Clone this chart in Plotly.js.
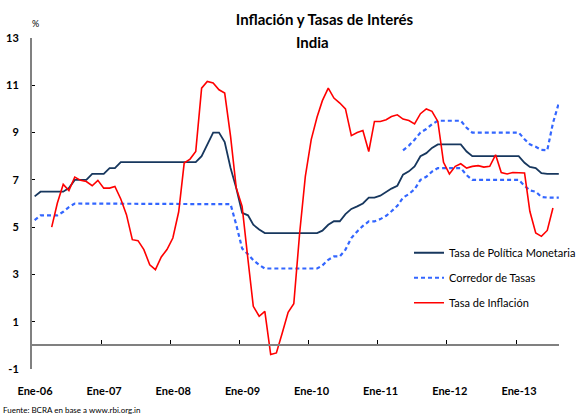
<!DOCTYPE html>
<html>
<head>
<meta charset="utf-8">
<script src="https://cdn.plot.ly/plotly-3.0.1.min.js"></script>
<style>
  html, body { margin: 0; padding: 0; background: #fff; }
  #chart { width: 581px; height: 414px; }
</style>
</head>
<body>
<div id="chart"></div>
<script>
// Monthly series, Jan 2006 - Aug 2013
const politica = [
  6.3, 6.5, 6.5, 6.5, 6.5, 6.5, 6.65, 7.0, 7.0, 7.0,
  7.25, 7.25, 7.25, 7.5, 7.5, 7.75, 7.75, 7.75, 7.75, 7.75,
  7.75, 7.75, 7.75, 7.75, 7.75, 7.75, 7.75, 7.75, 7.75, 8.0,
  8.5, 9.0, 9.0, 8.6, 7.5, 6.65, 5.6, 5.5, 5.1, 4.9,
  4.75, 4.75, 4.75, 4.75, 4.75, 4.75, 4.75, 4.75, 4.75, 4.75,
  4.85, 5.1, 5.25, 5.25, 5.55, 5.77, 5.88, 6.0, 6.25, 6.25,
  6.33, 6.5, 6.63, 6.75, 7.22, 7.36, 7.57, 8.0, 8.13, 8.35,
  8.5, 8.5, 8.5, 8.5, 8.5, 8.2, 8.0, 8.0, 8.0, 8.0,
  8.0, 8.0, 8.0, 8.0, 8.0, 7.72, 7.55, 7.5, 7.28, 7.25,
  7.25, 7.25
];
const corredorInf = [
  5.3, 5.5, 5.5, 5.5, 5.5, 5.65, 5.85, 6.0, 6.0, 6.0,
  6.0, 6.0, 6.0, 6.0, 6.0, 6.0, 6.0, 6.0, 6.0, 6.0,
  6.0, 6.0, 6.0, 6.0, 6.0, 6.0, 6.0, 6.0, 6.0, 6.0,
  6.0, 6.0, 6.0, 6.0, 5.97, 5.1, 4.1, 3.85, 3.6, 3.4,
  3.25, 3.25, 3.25, 3.25, 3.25, 3.25, 3.25, 3.25, 3.25, 3.25,
  3.38, 3.62, 3.76, 3.76, 4.05, 4.54, 4.82, 5.05, 5.24, 5.24,
  5.34, 5.48, 5.67, 5.9, 6.25, 6.4, 6.6, 7.0, 7.13, 7.35,
  7.5, 7.5, 7.5, 7.5, 7.5, 7.2, 7.0, 7.0, 7.0, 7.0,
  7.0, 7.0, 7.0, 7.0, 7.0, 6.75, 6.55, 6.5, 6.28, 6.25,
  6.25, 6.25
];
// Upper band starts May 2011 (month index 64)
const inicioSup = 64;
const corredorSup = [
  8.25, 8.45, 8.7, 9.0, 9.15, 9.35,
  9.5, 9.5, 9.5, 9.5, 9.5, 9.2, 9.0, 9.0, 9.0, 9.0,
  9.0, 9.0, 9.0, 9.0, 9.0, 8.72, 8.5, 8.4, 8.27, 8.25,
  9.4, 10.25
];
// Inflation starts Apr 2006 (month index 3), ends Jul 2013
const inicioInf = 3;
const inflacion = [
  5.0, 6.02, 6.81, 6.55, 7.12, 6.98, 6.93,
  6.75, 6.98, 6.65, 6.65, 6.72, 6.19, 5.53, 4.47, 4.43, 4.05,
  3.41, 3.2, 3.74, 4.05, 4.54, 5.65, 7.71, 7.88, 8.2, 10.88,
  11.16, 11.1, 10.81, 10.67, 8.84, 6.66, 5.88, 3.62, 1.65, 1.23,
  1.44, -0.39, -0.32, 0.52, 1.4, 1.76, 4.75, 7.15, 8.7, 9.66,
  10.35, 10.88, 10.46, 10.25, 10.0, 8.87, 9.0, 9.09, 8.2, 9.47,
  9.47, 9.54, 9.68, 9.75, 9.57, 9.51, 9.37, 9.8, 10.0, 9.9,
  9.47, 7.74, 7.25, 7.57, 7.68, 7.5, 7.57, 7.6, 7.54, 7.57,
  8.06, 7.31, 7.25, 7.31, 7.31, 7.29, 5.67, 4.75, 4.61, 4.86,
  5.81
];
const tickVals = ["2006-01-01","2007-01-01","2008-01-01","2009-01-01","2010-01-01","2011-01-01","2012-01-01","2013-01-01"];
const tickText = ["Ene-06","Ene-07","Ene-08","Ene-09","Ene-10","Ene-11","Ene-12","Ene-13"];
const yTicks = [-1, 1, 3, 5, 7, 9, 11, 13];

const meses = [];
for (let y = 2006; y <= 2013; y++) {
  for (let m = 1; m <= 12; m++) {
    if (y === 2013 && m > 8) break;
    meses.push(y + "-" + String(m).padStart(2, "0") + "-15");
  }
}

const F = "Lato, 'Open Sans', sans-serif";
const dotStyle = { color: "#3366FF", width: 2.2, dash: "4px,3px" };

const traces = [
  { x: meses, y: politica, type: "scatter", mode: "lines", name: "Tasa de Política Monetaria",
    legendgroup: "a", line: { color: "#17375E", width: 1.8 } },
  { x: meses, y: corredorInf, type: "scatter", mode: "lines", name: "Corredor de Tasas",
    legendgroup: "b", line: dotStyle },
  { x: meses.slice(inicioSup, inicioSup + corredorSup.length), y: corredorSup, type: "scatter", mode: "lines",
    name: "Corredor de Tasas", legendgroup: "b", showlegend: false, line: dotStyle },
  { x: meses.slice(inicioInf, inicioInf + inflacion.length), y: inflacion, type: "scatter", mode: "lines",
    name: "Tasa de Inflación", legendgroup: "c", line: { color: "#FF0000", width: 1.6 } }
];

const layout = {
  width: 581, height: 414,
  margin: { l: 32, r: 0, t: 38, b: 45 },
  paper_bgcolor: "#fff", plot_bgcolor: "#fff",
  font: { family: F, color: "#000", size: 11 },
  title: { text: "<b>Inflación y Tasas de Interés</b>", font: { family: F, size: 15, color: "#000" },
           x: 0.5585, xanchor: "center", y: 0.952, yanchor: "middle", xref: "container", yref: "container" },
  showlegend: true,
  legend: { x: 0.716, xanchor: "left", y: 0.395, yanchor: "top", bgcolor: "rgba(0,0,0,0)",
            font: { family: F, size: 11, color: "#000" }, traceorder: "grouped", tracegroupgap: 6 },
  xaxis: {
    type: "date", range: ["2006-01-01", "2013-08-16"],
    anchor: "free", position: 1 / 14,
    showline: true, linecolor: "#808080", linewidth: 2,
    showgrid: false, zeroline: false,
    ticks: "inside", ticklen: 4, tickwidth: 1, tickcolor: "#000",
    tickvals: tickVals, ticktext: tickText,
    tickfont: { family: F, size: 11, color: "#000", weight: "bold" },
    ticklabelstandoff: 35, ticklabelshift: 3
  },
  yaxis: {
    range: [-1, 13], tickvals: yTicks, ticktext: yTicks.map(String),
    showline: true, linecolor: "#808080", linewidth: 2,
    showgrid: false, zeroline: false,
    ticks: "inside", ticklen: 3, tickwidth: 1, tickcolor: "#000",
    tickfont: { family: F, size: 11, color: "#000", weight: "bold" },
    ticklabelstandoff: 9
  },
  annotations: [
    { text: "<b>India</b>", xref: "paper", yref: "paper", x: (324.5 - 32) / 549, y: 1 + (38 - 42) / 331,
      xanchor: "center", yanchor: "middle", showarrow: false, font: { family: F, size: 15, color: "#000" } },
    { text: "%", xref: "paper", yref: "paper", x: 4 / 549, y: 1 + (38 - 24) / 331,
      xanchor: "center", yanchor: "middle", showarrow: false, font: { family: F, size: 9, color: "#000" } },
    { text: "Fuente: BCRA en base a www.rbi.org.in", xref: "paper", yref: "paper", x: -32 / 549, y: -(409.5 - 369) / 331,
      xanchor: "left", yanchor: "middle", showarrow: false, font: { family: F, size: 8, color: "#000" } }
  ]
};

Plotly.newPlot("chart", traces, layout, { displayModeBar: false, staticPlot: true });
</script>
</body>
</html>
